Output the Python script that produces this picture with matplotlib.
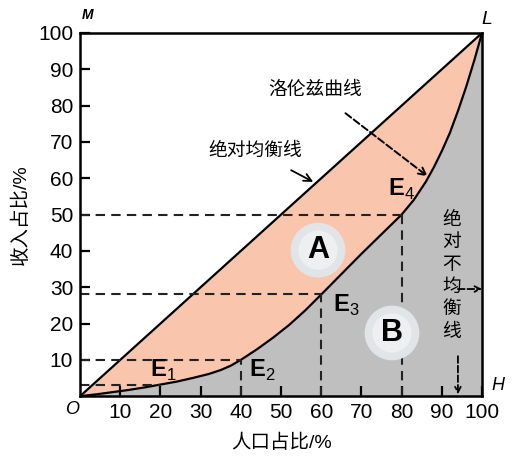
import numpy as np
import matplotlib
matplotlib.use('Agg')
import matplotlib.pyplot as plt

plt.rcParams['font.family'] = ['Liberation Sans', 'Noto Sans CJK SC', 'DejaVu Sans']
plt.rcParams['mathtext.fontset'] = 'custom'
plt.rcParams['mathtext.rm'] = 'Liberation Sans'
plt.rcParams['mathtext.bf'] = 'Liberation Sans:bold'

# 洛伦兹曲线上读出的点（人口占比, 收入占比）
pop = [0, 4, 8, 12, 16, 20, 24, 28, 32, 35, 37.5, 40, 44, 48, 52, 56, 60, 65, 70, 75,
       80, 83, 86, 88, 90, 92, 94, 96, 98, 100]
income = [0, 0.5, 1.1, 1.7, 2.4, 3.2, 4.0, 5.0, 6.1, 7.2, 8.4, 10, 12.9, 16.1, 19.6, 23.6, 28, 33.6, 39.2, 44.6,
          50, 54, 59, 63, 67.5, 72.5, 78.5, 85, 92.2, 100]

# E1..E4 点
e_x = [20, 40, 60, 80]
e_y = [3.2, 10, 28, 50]
e_names = ['1', '2', '3', '4']

ticks = [10, 20, 30, 40, 50, 60, 70, 80, 90, 100]

orange = '#F9C6AD'
grey = '#BFBFBF'
dash = (0, (4.5, 3))

fig = plt.figure(figsize=(5.2, 4.58), dpi=100)
ax = fig.add_axes([0.154, 0.135, 0.773, 0.793])

ax.fill_between(pop, income, pop, color=orange, lw=0)
ax.fill_between(pop, 0, income, color=grey, lw=0)
ax.plot([0, 100], [0, 100], color='black', lw=1.6)
ax.plot(pop, income, color='black', lw=1.6)

# 虚线
for x, y in zip(e_x, e_y):
    ax.plot([0, x], [y, y], color='#222222', lw=1.5, linestyle=dash)
    if x > 20:
        ax.plot([x, x], [0, y], color='#222222', lw=1.5, linestyle=dash)

# E 标签
e_pos = [(17.5, 7), (42, 7), (63, 25), (76.5, 57)]
for (tx, ty), n in zip(e_pos, e_names):
    ax.text(tx, ty, r'$\mathbf{E}_{' + n + '}$', fontsize=17, ha='left', va='center')

# A, B 圆
ax.scatter([59.2, 77.6], [40.2, 17.4], s=1550, color='#E2E5E7', edgecolors='none', zorder=3)
ax.scatter([59.2, 77.6], [40.2, 17.4], s=800, color='#EDEFF0', edgecolors='none', zorder=3)
ax.text(59.2, 40.2, 'A', fontsize=22, fontweight='bold', ha='center', va='center', zorder=4)
ax.text(77.6, 17.4, 'B', fontsize=22, fontweight='bold', ha='center', va='center', zorder=4)

# 文字注释
ax.annotate('洛伦兹曲线', xy=(86.5, 60.5), xytext=(58.5, 84.3), fontsize=13.5,
            ha='center', va='center',
            arrowprops=dict(arrowstyle='->', lw=1.4, linestyle='--', color='black',
                            shrinkA=14, shrinkB=0))
ax.annotate('绝对均衡线', xy=(58, 59), xytext=(43.5, 67.5), fontsize=13.5,
            ha='center', va='center',
            arrowprops=dict(arrowstyle='->', lw=1.3, color='black', shrinkA=12, shrinkB=0))
ax.text(92.5, 33, '\n'.join('绝对不均衡线'), fontsize=13.5, ha='center', va='center',
        linespacing=1.4)
ax.annotate('', xy=(100, 29.5), xytext=(94, 29.5),
            arrowprops=dict(arrowstyle='->', lw=1.3, linestyle='--', color='black',
                            shrinkA=0, shrinkB=0))
ax.annotate('', xy=(94, 0.5), xytext=(94, 11),
            arrowprops=dict(arrowstyle='->', lw=1.3, linestyle='--', color='black',
                            shrinkA=0, shrinkB=0))

ax.set_xlim(0, 100)
ax.set_ylim(0, 100)
ax.set_xticks(ticks)
ax.set_yticks(ticks)
ax.tick_params(direction='in', length=7, width=1.6, labelsize=15, pad=5)
for s in ax.spines.values():
    s.set_linewidth(1.8)

ax.set_xlabel('人口占比/%', fontsize=14, labelpad=8)
ax.set_ylabel('收入占比/%', fontsize=14, labelpad=6)

fig.text(88 / 520, 1 - 15 / 458, 'M', fontsize=10, style='italic', fontweight='bold', ha='center', va='center')
fig.text(487 / 520, 1 - 20 / 458, 'L', fontsize=14, style='italic', ha='center', va='center')
fig.text(498 / 520, 1 - 385 / 458, 'H', fontsize=13, style='italic', ha='center', va='center')
fig.text(72 / 520, 1 - 410 / 458, 'O', fontsize=13, style='italic', ha='center', va='center')

fig.savefig('out.png', dpi=100)
